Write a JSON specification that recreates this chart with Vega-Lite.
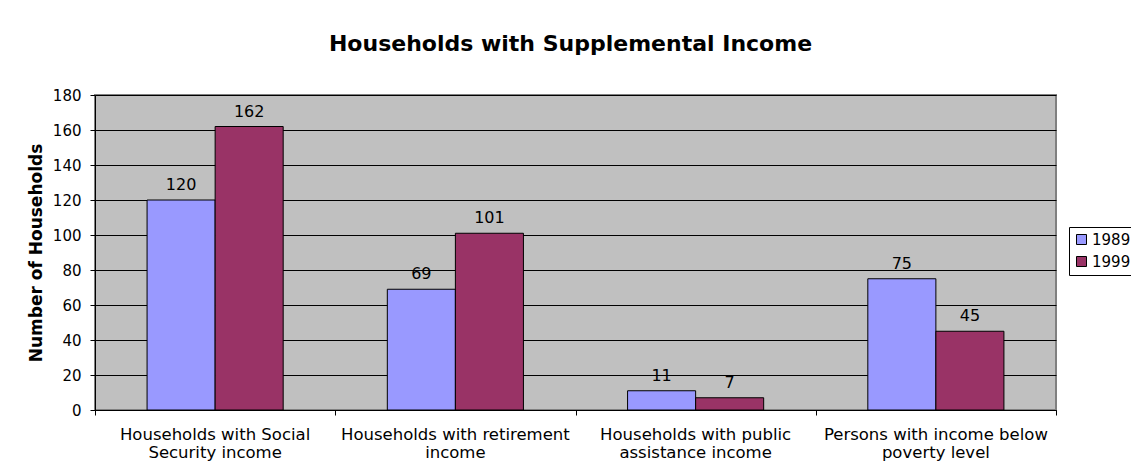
{
  "$schema": "https://vega.github.io/schema/vega-lite/v6.json",
  "autosize": "none",
  "width": 961,
  "height": 315,
  "padding": {"left": 95, "top": 95, "right": 75, "bottom": 63},
  "background": "white",
  "config": {
    "font": "DejaVu Sans",
    "view": {"fill": "#C0C0C0", "stroke": "#808080", "strokeWidth": 2}
  },
  "title": {
    "text": "Households with Supplemental Income",
    "fontSize": 22,
    "fontWeight": "bold",
    "color": "black",
    "anchor": "middle",
    "frame": "group",
    "baseline": "middle",
    "offset": 22,
    "dx": -5
  },
  "data": {
    "values": [
      {"category": "Households with Social Security income", "year": "1989", "value": 120},
      {"category": "Households with Social Security income", "year": "1999", "value": 162},
      {"category": "Households with retirement income", "year": "1989", "value": 69},
      {"category": "Households with retirement income", "year": "1999", "value": 101},
      {"category": "Households with public assistance income", "year": "1989", "value": 11},
      {"category": "Households with public assistance income", "year": "1999", "value": 7},
      {"category": "Persons with income below poverty level", "year": "1989", "value": 75},
      {"category": "Persons with income below poverty level", "year": "1999", "value": 45}
    ]
  },
  "encoding": {
    "xOffset": {
      "field": "year",
      "type": "nominal",
      "scale": {"paddingInner": 0, "paddingOuter": 0.765}
    },
    "y": {
      "field": "value",
      "type": "quantitative",
      "scale": {"domain": [0, 180], "nice": false},
      "axis": {
        "title": "Number of Households",
        "titleFontSize": 17,
        "titleFontWeight": "bold",
        "titleColor": "black",
        "titlePadding": 7,
        "values": [0, 20, 40, 60, 80, 100, 120, 140, 160, 180],
        "grid": true,
        "gridColor": "black",
        "gridWidth": 1,
        "gridOpacity": 1,
        "domainColor": "black",
        "tickColor": "black",
        "tickSize": 5,
        "labelColor": "black",
        "labelFontSize": 15,
        "labelPadding": 9
      }
    }
  },
  "layer": [
    {
      "mark": {"type": "bar", "stroke": "black", "strokeWidth": 1},
      "encoding": {
        "x": {
          "field": "category",
          "type": "nominal",
          "sort": null,
          "scale": {"paddingInner": 0, "paddingOuter": 0},
          "axis": {
            "orient": "bottom",
            "title": null,
            "labels": false,
            "tickBand": "extent",
            "domainColor": "black",
            "tickColor": "black",
            "tickSize": 5
          }
        },
        "color": {
          "field": "year",
          "type": "nominal",
          "scale": {"domain": ["1989", "1999"], "range": ["#9999FF", "#993366"]},
          "legend": {
            "title": null,
            "orient": "none",
            "legendX": 974,
            "legendY": 132,
            "symbolType": "square",
            "symbolSize": 100,
            "symbolStrokeColor": "black",
            "symbolStrokeWidth": 1,
            "labelFontSize": 15,
            "labelColor": "black",
            "strokeColor": "black",
            "fillColor": "white",
            "padding": 5,
            "rowPadding": 6,
            "labelOffset": 3
          }
        }
      }
    },
    {
      "mark": {"type": "text", "baseline": "alphabetic", "dy": -10, "fontSize": 16, "color": "black"},
      "encoding": {
        "x": {
          "field": "category",
          "type": "nominal",
          "sort": null,
          "axis": {
            "orient": "bottom",
            "title": null,
            "labelAngle": 0,
            "ticks": false,
            "domain": false,
            "labelColor": "black",
            "labelFontSize": 16.5,
            "labelPadding": 16,
            "labelLineHeight": 18,
            "labelLimit": 300,
            "labelExpr": "datum.value == 'Households with Social Security income' ? ['Households with Social', 'Security income'] : datum.value == 'Households with retirement income' ? ['Households with retirement', 'income'] : datum.value == 'Households with public assistance income' ? ['Households with public', 'assistance income'] : ['Persons with income below', 'poverty level']"
          }
        },
        "text": {"field": "value", "type": "quantitative"}
      }
    }
  ],
  "resolve": {"axis": {"x": "independent"}}
}
